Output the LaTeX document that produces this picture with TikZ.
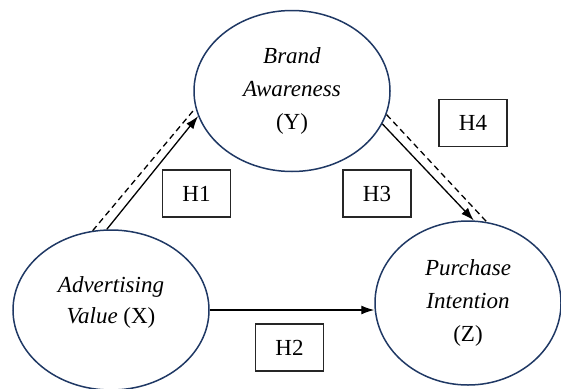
\documentclass[tikz,border=0pt]{standalone}
\usepackage{fontspec}
\setmainfont{Liberation Serif}
\usetikzlibrary{shapes.geometric, arrows.meta, positioning}
\definecolor{construct-blue}{HTML}{1F3864}

\begin{document}
\begin{tikzpicture}[x=1pt, y=-1pt,
    construct/.style={ellipse, draw=construct-blue, line width=1.5pt, minimum width=196pt, minimum height=161pt, inner sep=0pt, align=center, font=\fontsize{23}{33}\selectfont},
    hyp/.style={draw=black!85, line width=1.3pt, minimum width=68pt, minimum height=47pt, inner sep=0pt, font=\fontsize{23}{28}\selectfont},
    effect/.style={-{Latex[length=13pt,width=9pt]}, line width=1.3pt},
    med/.style={dash pattern=on 6pt off 4pt, line width=1.3pt}
]
    \clip (0,0) rectangle (561,388);

    \node (brand) [construct] at (292,91) {\textit{Brand}\\\textit{Awareness}\\(Y)};
    \node (advert) [construct, minimum height=160pt] at (111,310) {};
    \node (adverttext) [align=center, font=\fontsize{23}{31}\selectfont] at ([yshift=8pt]advert.center) {\textit{Advertising}\\\textit{Value} (X)};
    \node (purchase) [construct, minimum width=186pt, minimum height=164pt] at (468,303) {\textit{Purchase}\\\textit{Intention}\\(Z)};

    \node (h1) [hyp] at (196.5,193.5) {H1};
    \node (h2) [hyp] at (289.5,347.5) {H2};
    \node (h3) [hyp] at (377,193.5) {H3};
    \node (h4) [hyp] at (473,123) {H4};

    \draw [effect] (advert.93) -- (brand.195);
    \draw [med] (advert.103) -- (brand.190);
    \draw [effect] (brand.340) -- (purchase.86);
    \draw [med] (brand.346) -- (purchase.77);
    \draw [effect] (advert.east) -- (advert.east -| purchase.west);
\end{tikzpicture}
\end{document}
